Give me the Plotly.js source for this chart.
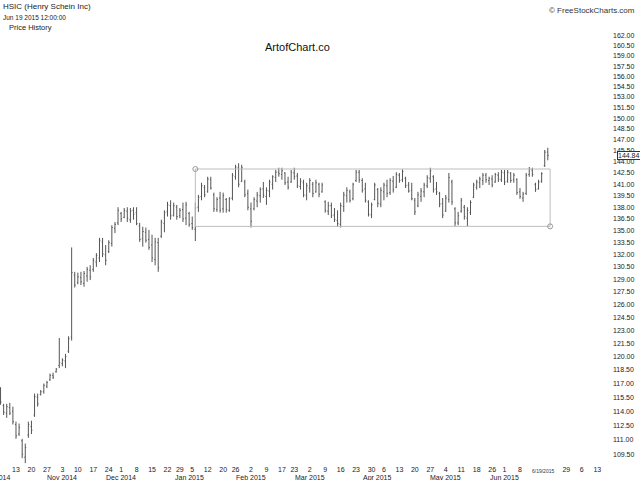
<!DOCTYPE html>
<html><head><meta charset="utf-8">
<script src="https://cdn.plot.ly/plotly-3.0.1.min.js"></script>
<style>html,body{margin:0;padding:0;background:#fff}#chart{width:640px;height:480px}</style>
</head><body><div id="chart"></div>
<script>
// ---- data (HSIC daily OHLC, Oct 6 2014 .. Jun 19 2015) ----
const firstDay = '2014-10-06';
const lastDay = '2015-06-19';
const holidays = ['2014-11-27','2014-12-25','2015-01-01','2015-01-19','2015-02-16','2015-04-03','2015-05-25'];

const openP = [
116.3,114.6,113.8,114.4,114.0,112.6,111.6,110.9,109.2,111.5,
112.4,113.6,115.5,115.8,116.1,116.7,117.4,117.9,118.3,119.0,
119.2,119.5,120.6,122.2,129.5,128.6,129.2,128.5,129.4,130.1,
130.2,131.1,131.6,133.6,132.0,132.4,133.4,135.3,136.0,137.2,
136.7,137.5,136.4,137.6,137.3,135.6,134.0,134.8,133.9,133.2,
131.4,133.5,134.3,135.9,137.4,138.2,137.0,138.0,136.9,137.7,
136.6,137.2,135.9,135.2,138.0,139.4,140.6,140.0,141.6,139.6,
137.7,139.2,137.8,139.0,137.6,139.2,142.0,143.2,141.4,141.3,
139.8,137.8,137.8,138.8,139.5,140.4,139.4,140.1,141.0,141.9,
142.6,142.3,142.5,141.3,141.3,142.5,142.1,140.7,141.2,139.5,
140.5,141.0,140.0,141.0,140.0,138.7,137.5,138.2,137.0,136.3,
135.8,138.1,139.5,140.0,139.1,141.5,142.6,141.5,140.4,138.7,
137.0,139.0,140.3,138.4,140.0,140.8,139.9,141.4,140.6,142.2,
141.6,141.8,140.9,140.2,138.9,138.2,139.4,140.0,140.8,141.8,
142.0,140.4,139.8,138.5,137.5,139.0,141.3,137.8,136.0,137.5,
138.0,136.6,137.3,139.3,140.6,141.2,141.5,142.2,141.5,141.7,
141.3,142.2,141.6,142.5,141.4,142.5,141.6,141.6,140.0,139.2,
139.8,142.3,142.9,141.0,140.4,141.4,143.5,145.3];

const highP = [
116.6,114.8,114.8,114.9,114.5,112.9,112.7,111.1,110.6,112.9,
113.0,115.9,115.9,116.3,117.0,117.3,118.1,118.2,118.7,122.1,
119.8,120.3,122.3,132.9,129.9,129.8,129.9,130.0,130.5,130.7,
131.6,132.2,134.1,134.1,133.2,133.8,135.7,136.1,138.0,137.4,
137.9,138.0,137.9,138.0,138.0,136.0,135.5,135.4,135.1,134.5,
134.1,134.1,136.4,137.6,138.7,138.9,138.6,138.3,137.9,138.6,
138.7,137.4,136.8,138.6,139.6,141.2,140.9,142.0,142.0,139.9,
139.3,140.0,139.9,139.2,139.3,142.5,143.6,143.8,143.6,141.6,
140.3,138.6,139.3,140.0,140.6,141.3,140.6,141.6,142.2,142.9,
143.2,143.2,142.6,142.0,142.9,143.2,142.5,141.8,141.6,141.2,
141.8,141.3,141.6,141.2,141.2,138.9,138.7,138.6,137.9,137.6,
138.6,140.0,140.6,140.3,141.2,142.9,142.9,141.8,141.2,138.9,
138.6,141.2,140.5,140.6,141.2,141.6,141.8,142.1,142.6,142.5,
143.0,142.0,141.3,141.2,139.2,140.0,140.5,141.2,142.2,143.2,
142.2,141.3,140.0,139.2,139.6,142.5,141.6,138.0,137.4,139.2,
138.3,138.0,138.9,141.2,141.6,142.0,142.5,142.5,142.0,142.2,
142.5,142.6,142.9,142.9,142.9,142.6,142.5,141.8,140.5,140.0,
142.5,143.3,143.2,141.2,141.6,142.6,145.6,145.9];

const lowP = [
114.7,113.6,113.3,113.6,112.6,111.1,111.4,109.1,108.6,111.2,
111.6,113.4,114.5,115.7,115.9,116.5,117.3,117.5,118.2,118.7,
118.9,118.7,120.4,121.8,128.0,128.4,128.3,128.1,128.7,128.9,
129.9,130.5,131.1,131.7,130.7,132.2,133.0,134.7,135.7,136.1,
136.6,136.1,136.0,136.4,135.7,133.6,133.0,133.5,132.6,131.1,
130.7,129.9,134.1,134.8,136.8,136.4,136.8,136.4,136.6,136.1,
135.7,135.5,135.1,133.7,137.4,138.9,139.3,139.9,140.3,137.4,
137.4,137.3,137.3,137.3,137.4,138.9,141.6,140.6,141.3,139.3,
137.6,135.4,137.6,138.0,138.6,139.2,138.3,139.3,140.3,141.3,
142.0,141.6,140.9,140.3,141.2,141.6,140.5,140.3,139.3,138.9,
139.9,139.3,139.9,139.3,139.9,137.3,137.0,136.6,136.1,135.5,
135.4,137.4,138.6,138.6,138.9,141.3,141.2,139.9,138.6,136.8,
136.6,138.9,138.0,138.0,138.9,139.3,139.6,139.9,140.5,141.2,
141.3,140.5,139.9,138.9,137.0,138.0,138.7,139.3,140.5,141.2,
139.9,139.6,138.0,136.6,137.4,138.6,138.3,135.6,135.7,137.3,
136.4,135.6,137.0,139.2,140.3,140.5,140.9,141.2,140.9,140.6,
141.2,141.3,141.3,140.9,141.2,141.2,141.2,139.6,139.1,138.7,
139.6,142.0,142.0,140.0,140.3,141.2,143.3,144.2];

const closeP = [
115.0,113.9,114.5,113.8,112.9,111.4,112.3,109.5,110.2,112.6,
112.0,115.6,114.8,116.1,116.8,117.1,117.9,117.7,118.6,119.3,
119.6,120.0,122.0,129.8,128.3,129.3,128.7,129.7,130.2,129.3,
131.3,131.9,133.8,132.1,131.3,133.5,135.4,135.8,137.6,136.5,
137.6,136.6,137.5,137.1,135.9,133.9,134.9,133.8,132.9,131.6,
133.6,130.4,136.1,137.3,138.3,136.9,138.2,136.8,137.6,136.5,
138.3,135.8,135.4,137.9,139.3,140.8,139.6,141.7,140.5,137.8,
139.0,137.6,139.5,137.7,139.1,142.2,143.3,141.0,143.2,139.6,
138.0,136.2,139.0,139.6,140.3,139.6,140.2,141.3,142.0,142.6,
142.4,142.8,141.2,140.6,142.6,142.0,140.8,141.4,139.6,140.8,
141.5,139.8,141.2,139.7,140.9,137.6,138.2,136.9,136.4,135.9,
138.2,139.6,140.2,138.9,141.0,142.6,141.6,140.2,138.9,137.1,
138.3,140.9,138.5,140.2,140.9,139.8,141.5,140.3,142.3,141.5,
142.7,140.8,140.1,139.1,137.4,139.6,140.1,140.9,141.9,142.8,
140.3,140.0,138.4,137.0,139.2,141.9,138.7,136.0,136.9,138.9,
136.8,137.6,138.6,140.9,141.3,141.7,142.2,141.6,141.8,140.9,
142.3,141.7,142.6,141.3,142.6,141.5,142.2,139.9,139.4,139.7,
142.2,143.0,142.3,140.3,141.3,142.4,145.3,144.84];

const weekTicks = ['2014-10-13','2014-10-20','2014-10-27','2014-11-03','2014-11-10','2014-11-17','2014-11-24',
'2014-12-01','2014-12-08','2014-12-15','2014-12-22','2014-12-29','2015-01-05','2015-01-12','2015-01-20','2015-01-26',
'2015-02-02','2015-02-09','2015-02-17','2015-02-23','2015-03-02','2015-03-09','2015-03-16','2015-03-23','2015-03-30',
'2015-04-06','2015-04-13','2015-04-20','2015-04-27','2015-05-04','2015-05-11','2015-05-18','2015-05-26','2015-06-01',
'2015-06-08','2015-06-29','2015-07-06','2015-07-13'];
const weekLabels = ['13','20','27','3','10','17','24','1','8','15','22','29','5','12','20','26','2','9','17','23',
'2','9','16','23','30','6','13','20','27','4','11','18','26','1','8','29','6','13'];
const monthDates = ['2014-11-03','2014-12-01','2015-01-02','2015-02-02','2015-03-02','2015-04-01','2015-05-04','2015-06-01'];
const monthLabels = ['Nov 2014','Dec 2014','Jan 2015','Feb 2015','Mar 2015','Apr 2015','May 2015','Jun 2015'];
const priceTicks = [109.5,111,112.5,114,115.5,117,118.5,120,121.5,123,124.5,126,127.5,129,130.5,132,133.5,135,
136.5,138,139.5,141,142.5,144,145.5,147,148.5,150,151.5,153,154.5,156,157.5,159,160.5,162];

const channelStart = '2015-01-06';
const channelEnd = '2015-06-19 18:00';
const channelLow = 135.55;
const channelHigh = 143.03;
const lastClose = 144.84;

// ---- trading calendar ----
function tradingDays(a, b, hol) {
  const out = [];
  const d = new Date(a + 'T00:00:00Z');
  const end = new Date(b + 'T00:00:00Z');
  while (d <= end) {
    const dow = d.getUTCDay();
    const s = d.toISOString().slice(0, 10);
    if (dow !== 0 && dow !== 6 && hol.indexOf(s) < 0) out.push(s);
    d.setUTCDate(d.getUTCDate() + 1);
  }
  return out;
}
const dates = tradingDays(firstDay, lastDay, holidays);

const axisFont = {family: 'Liberation Sans, Arial, sans-serif', size: 7, color: '#222'};

const traces = [
  {type: 'ohlc', x: dates, open: openP, high: highP, low: lowP, close: closeP,
   increasing: {line: {color: '#555', width: 1}},
   decreasing: {line: {color: '#555', width: 1}},
   tickwidth: 0.3, hoverinfo: 'skip', showlegend: false},
  {type: 'scatter', mode: 'lines',
   x: [channelStart, channelEnd, channelEnd, channelStart, channelStart],
   y: [channelHigh, channelHigh, channelLow, channelLow, channelHigh],
   line: {color: '#bdbdbd', width: 1}, hoverinfo: 'skip', showlegend: false},
  {type: 'scatter', mode: 'markers',
   x: [channelStart, channelEnd], y: [channelHigh, channelLow],
   marker: {symbol: 'circle-open', size: 5, color: '#999', line: {width: 1, color: '#999'}},
   hoverinfo: 'skip', showlegend: false}
];

const px = (t, xs, ys, size, color, anchor) => ({
  text: t, xref: 'paper', yref: 'paper', x: anchor === 'right' ? 1 : 0, y: 1,
  xanchor: anchor || 'left', yanchor: 'middle', xshift: xs, yshift: 30 - ys,
  showarrow: false, font: {family: 'Liberation Sans, Arial, sans-serif', size: size, color: color}
});

const annotations = [
  px('HSIC (Henry Schein Inc)', 1, 6, 8, '#222'),
  px('Jun 19 2015 12:00:00', 1, 17, 6.5, '#222'),
  px('Price History', 7, 27, 7.5, '#222'),
  px('\u00a9 FreeStockCharts.com', 25, 10, 8, '#333', 'right'),
  px('ArtofChart.co', 263, 47, 11, '#111'),
  {text: 'Oct 2014', xref: 'paper', yref: 'paper', x: 0, y: 0, xanchor: 'right', yanchor: 'top',
   xshift: 13, yshift: -8, showarrow: false, font: axisFont},
  {text: '6/19/2015', xref: 'x', yref: 'paper', x: lastDay, y: 0, xanchor: 'center', yanchor: 'top',
   xshift: -5, yshift: -2, showarrow: false, font: {family: 'Liberation Sans, Arial, sans-serif', size: 5, color: '#333'}},
  {text: lastClose.toFixed(2), xref: 'paper', yref: 'y', x: 1, y: Math.log10(lastClose),
   xanchor: 'left', yanchor: 'middle', xshift: 5, showarrow: false, font: axisFont,
   bgcolor: '#fff', bordercolor: '#333', borderwidth: 1, borderpad: 0}
];
monthDates.forEach((d, k) => annotations.push({
  text: monthLabels[k], xref: 'x', yref: 'paper', x: d, y: 0, xanchor: 'center', yanchor: 'top',
  yshift: -8, showarrow: false, font: axisFont}));

const layout = {
  width: 640, height: 480,
  margin: {l: 0, r: 28, t: 30, b: 16, pad: 0},
  paper_bgcolor: '#fff', plot_bgcolor: '#fff',
  showlegend: false,
  xaxis: {
    type: 'date',
    rangebreaks: [{bounds: ['sat', 'mon']}, {values: holidays}],
    range: ['2014-10-03 19:50', '2015-07-17 18:15'],
    rangeslider: {visible: false},
    tickmode: 'array', tickvals: weekTicks, ticktext: weekLabels,
    tickfont: axisFont, ticks: '', showgrid: false, zeroline: false, showline: false
  },
  yaxis: {
    type: 'log', side: 'right',
    range: [Math.log10(108.51), Math.log10(162.91)],
    tickmode: 'array', tickvals: priceTicks, ticktext: priceTicks.map(v => v.toFixed(2)),
    tickfont: axisFont, ticks: '', showgrid: false, zeroline: false, showline: false
  },
  annotations: annotations
};

Plotly.newPlot('chart', traces, layout, {staticPlot: true, displayModeBar: false});
</script>
</body></html>
